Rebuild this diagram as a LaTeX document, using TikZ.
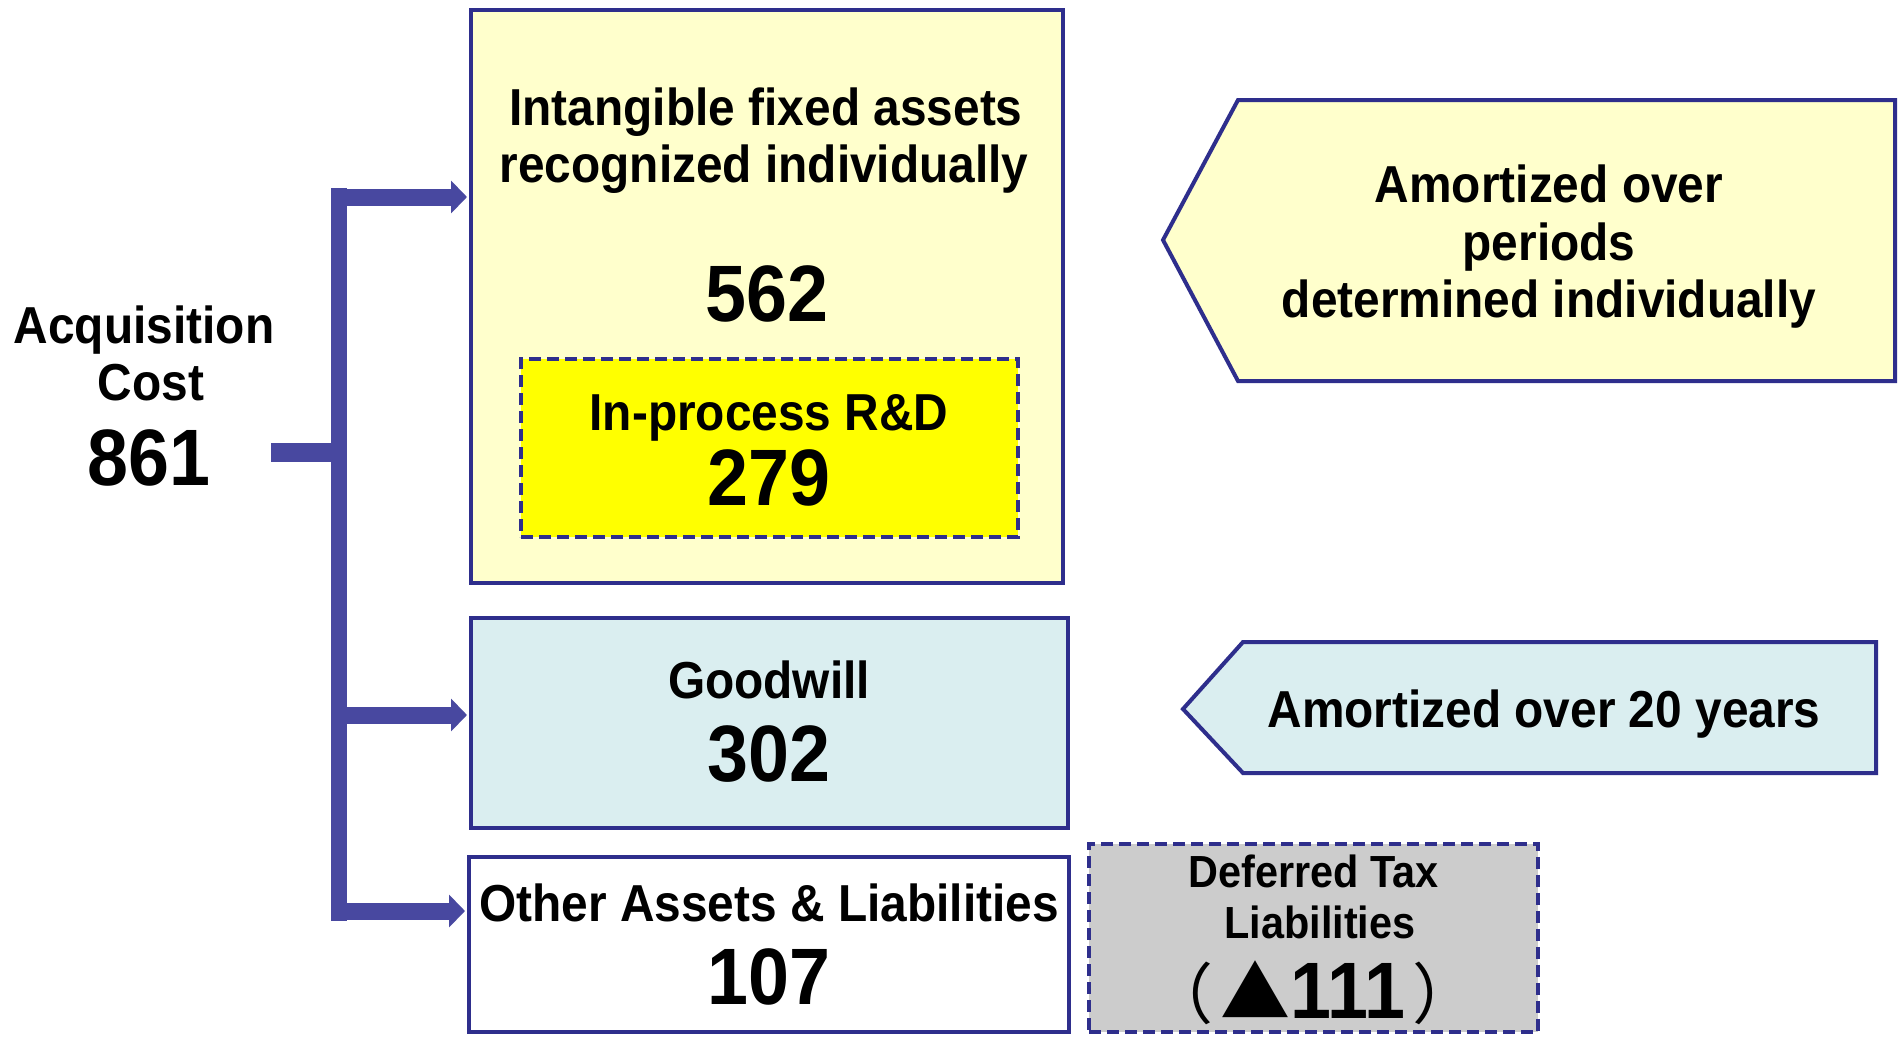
\documentclass[tikz,border=0pt]{standalone}
\usepackage{fontspec}
\setmainfont{Liberation Sans}[FakeStretch=0.92]
\newfontfamily\cjkfont{Noto Sans CJK JP}
\usetikzlibrary{arrows.meta}
\definecolor{navy}{RGB}{46,46,140}
\definecolor{arrowblue}{RGB}{72,72,160}
\definecolor{paleyellow}{RGB}{255,255,204}
\definecolor{brightyellow}{RGB}{255,255,0}
\definecolor{palecyan}{RGB}{218,238,240}
\definecolor{boxgray}{RGB}{204,204,204}
\begin{document}
\begin{tikzpicture}[x=1pt,y=-1pt,
  box/.style={draw=navy, line width=4pt, rectangle, inner sep=0pt},
  dbox/.style={box, line width=4.5pt, dash pattern=on 12pt off 6pt},
  lbl/.style={anchor=base, inner sep=0pt, font=\fontsize{52}{58}\selectfont\bfseries},
  slbl/.style={anchor=base, inner sep=0pt, font=\fontsize{45}{50}\selectfont\bfseries},
  num/.style={anchor=base, inner sep=0pt, font=\fontsize{80}{80}\selectfont\bfseries},
  pent/.style={draw=navy, line width=4pt, line join=miter},
  bar/.style={draw=arrowblue, line width=16pt},
  stubline/.style={draw=arrowblue, line width=19pt},
  arr/.style={draw=arrowblue, line width=17pt, shorten >=2pt, -{Triangle[length=16pt,width=32pt]}},
]
\useasboundingbox (0,0) rectangle (1900,1037);
\fill[white] (0,0) rectangle (1900,1037);

% boxes
\node[box, fill=paleyellow, minimum width=592pt, minimum height=573pt] (intang) at (767,296.5) {};
\node[dbox, fill=brightyellow, minimum width=497pt, minimum height=178pt] (rnd) at (769.5,448) {};
\node[box, fill=palecyan, minimum width=597pt, minimum height=210pt] (goodwill) at (769.5,723) {};
\node[box, fill=white, minimum width=600pt, minimum height=175pt] (other) at (769,944.5) {};
\node[dbox, fill=boxgray, minimum width=449pt, minimum height=188pt] (dtl) at (1313.5,938) {};

% pentagons
\draw[pent, fill=paleyellow] (1163,240) -- (1238,100) -- (1895,100) -- (1895,381) -- (1238,381) -- cycle;
\draw[pent, fill=palecyan] (1183,709) -- (1243,642) -- (1876,642) -- (1876,773) -- (1243,773) -- cycle;

% texts
\node[lbl] (intang1) at (766,125) {Intangible fixed assets};
\node[lbl] (intang2) at (764,182) {recognized individually};
\node[num] (n562) at (767,321) {562};
\node[lbl] (rnd1) at (769,430) {In-process R\&D};
\node[num] (n279) at (769,505) {279};
\node[lbl] (gw1) at (769,698) {Goodwill};
\node[num] (n302) at (769,781) {302};
\node[lbl] (oth1) at (769,921) {Other Assets \& Liabilities};
\node[num] (n107) at (769,1004) {107};
\node[lbl] (acq1) at (144,343) {Acquisition};
\node[lbl] (acq2) at (151,400) {Cost};
\node[num] (n861) at (149,485) {861};
\node[lbl] (am1) at (1549,202) {Amortized over};
\node[lbl] (am2) at (1549,260) {periods};
\node[lbl] (am3) at (1549,317) {determined individually};
\node[lbl] (am20) at (1544,727) {Amortized over 20 years};
\node[slbl] (dtl1) at (1314,887) {Deferred Tax};
\node[slbl] (dtl2) at (1320,938) {Liabilities};
\node[anchor=base, inner sep=0pt] (dtl3) at (1313,1018) {{\cjkfont\fontsize{66}{66}\selectfont （}\kern7pt{\cjkfont\fontsize{70}{70}\selectfont ▲}{\fontsize{80}{80}\selectfont\bfseries 111}\kern7pt{\cjkfont\fontsize{66}{66}\selectfont ）}};

% connectors
\coordinate (bartop) at (339,188);
\coordinate (barbot) at (339,921);
\coordinate (stub) at (271,452);
\coordinate (a1) at (339,197);
\coordinate (a2) at (339,715);
\coordinate (a3) at (339,911);
\draw[bar] (bartop) -- (barbot);
\draw[stubline] (stub) -- (stub -| bartop);
\draw[arr] (a1) -- (a1 -| intang.west);
\draw[arr] (a2) -- (a2 -| goodwill.west);
\draw[arr] (a3) -- (a3 -| other.west);
\end{tikzpicture}
\end{document}
